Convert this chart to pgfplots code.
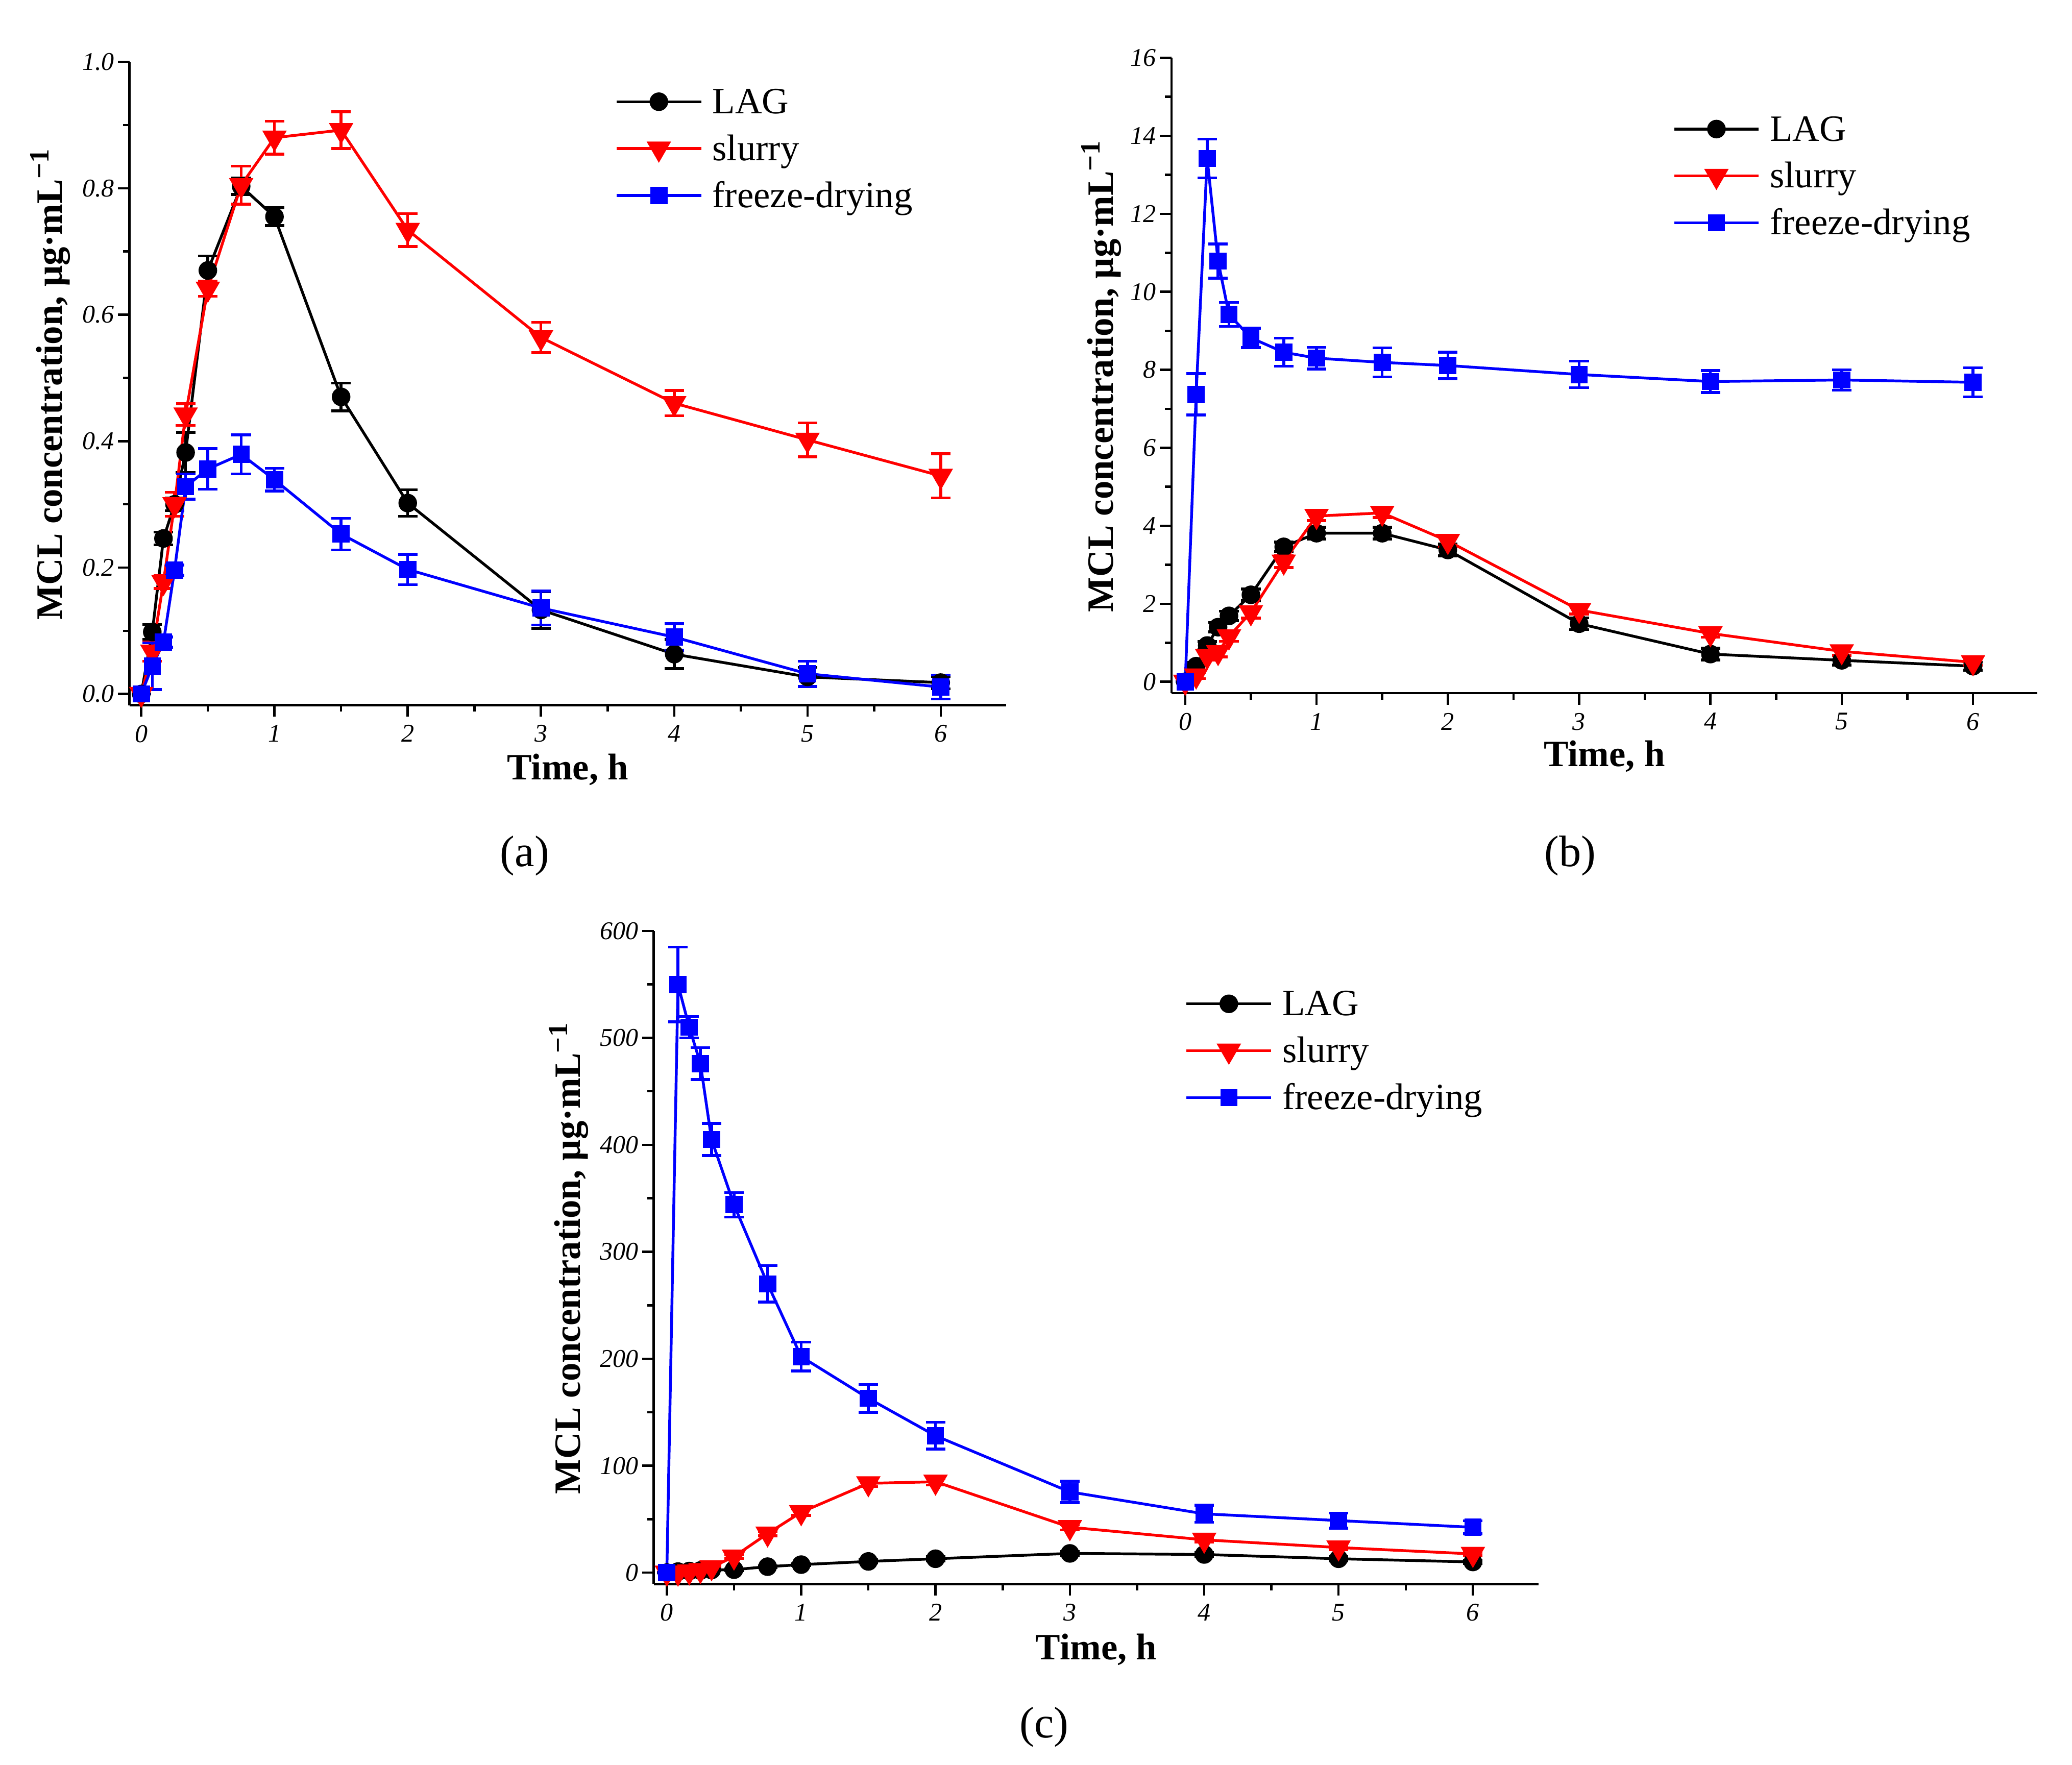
\documentclass[border=0pt]{standalone}
\usepackage{fontspec}
\setmainfont{Liberation Serif}
\usepackage{pgfplots}
\pgfplotsset{compat=1.18}
\usepackage{pgfplotstable}

% ---------- data: t [h], concentration, sd ----------
\pgfplotstableread{
t     c      e
0     0      0
0.083 0.098  0.012
0.167 0.246  0.010
0.25  0.300  0.010
0.333 0.382  0.032
0.5   0.670  0.023
0.75  0.803  0.013
1     0.755  0.014
1.5   0.470  0.022
2     0.302  0.021
3     0.133  0.029
4     0.063  0.023
5     0.027  0.015
6     0.018  0.010
}\lagA
\pgfplotstableread{
t     c      e
0     0      0
0.083 0.067  0.015
0.167 0.177  0.010
0.25  0.300  0.019
0.333 0.442  0.017
0.5   0.641  0.012
0.75  0.805  0.030
1     0.880  0.026
1.5   0.892  0.029
2     0.734  0.026
3     0.564  0.024
4     0.460  0.020
5     0.402  0.027
6     0.345  0.035
}\slurA
\pgfplotstableread{
t     c      e
0     0      0
0.083 0.044  0.037
0.167 0.082  0.008
0.25  0.196  0.008
0.333 0.328  0.020
0.5   0.356  0.032
0.75  0.379  0.031
1     0.339  0.018
1.5   0.253  0.025
2     0.197  0.024
3     0.136  0.027
4     0.090  0.021
5     0.032  0.020
6     0.011  0.019
}\fdA

\pgfplotstableread{
t     c      e
0     0      0
0.083 0.40   0.10
0.167 0.93   0.10
0.25  1.40   0.12
0.333 1.69   0.12
0.5   2.23   0.15
0.75  3.46   0.12
1     3.81   0.15
1.5   3.81   0.15
2     3.38   0.15
3     1.49   0.15
4     0.71   0.15
5     0.55   0.12
6     0.40   0.10
}\lagB
\pgfplotstableread{
t     c      e
0     0      0
0.083 0.16   0.08
0.167 0.66   0.10
0.25  0.76   0.12
0.333 1.16   0.12
0.5   1.78   0.15
0.75  3.08   0.15
1     4.25   0.12
1.5   4.33   0.12
2     3.61   0.15
3     1.84   0.10
4     1.24   0.10
5     0.78   0.10
6     0.50   0.08
}\slurB
\pgfplotstableread{
t     c      e
0     0      0
0.083 7.37   0.53
0.167 13.42  0.50
0.25  10.79  0.44
0.333 9.42   0.31
0.5   8.82   0.25
0.75  8.45   0.36
1     8.30   0.28
1.5   8.19   0.37
2     8.11   0.34
3     7.88   0.34
4     7.70   0.28
5     7.74   0.26
6     7.68   0.37
}\fdB

\pgfplotstableread{
t     c      e
0     0      0
0.083 1      0.5
0.167 1.5    0.5
0.25  2      0.5
0.333 2.5    0.5
0.5   2.8    0.8
0.75  5.6    1
1     7.5    1
1.5   10.5   1.5
2     13     2
3     18     2
4     17     2
5     13     2
6     10     1.5
}\lagC
\pgfplotstableread{
t     c      e
0     0      0
0.083 0      0.5
0.167 1      0.5
0.25  2.4    0.5
0.333 5      1
0.5   15     1.5
0.75  36.5   2
1     56.5   3
1.5   83.5   3
2     85     3
3     42.5   2.5
4     30.7   2
5     23.5   2
6     17.5   1.5
}\slurC
\pgfplotstableread{
t     c      e
0     0      0
0.083 550    35
0.167 510    10
0.25  476    15
0.333 405    15
0.5   344    11.5
0.75  270    17
1     202    13.5
1.5   163    13
2     128    12.5
3     75.5   10
4     55     8
5     48.7   7
6     42.4   6
}\fdC

\pgfplotsset{
  panel/.style={
    scale only axis,
    anchor=south west,
    axis lines*=left,
    axis line style={line width=0.5pt},
    tick align=outside,
    major tick length=2.5pt,
    minor tick length=1.4pt,
    every tick/.style={black, line width=0.5pt},
    xmax=6.49,
    xtick={0,1,2,3,4,5,6},
    minor x tick num=1,
    minor y tick num=1,
    /pgf/number format/assume math mode=true,
    tick label style={font=\fontsize{5.5}{6}\selectfont\itshape},
    xticklabel style={inner sep=1.6pt},
    yticklabel style={inner sep=0.6pt},
    xlabel={Time, h},
    ylabel={MCL concentration, μg·mL\textsuperscript{−1}},
    label style={font=\fontsize{8}{9.6}\selectfont\bfseries},
    xlabel style={at={(axis description cs:0.5,-0.116)}, anchor=base},
    clip=false,
    legend cell align=left,
    legend style={draw=none, fill=none, inner sep=0pt, outer sep=0pt,
      anchor=north west, column sep=0.075cm, row sep=4.2pt,
      font=\fontsize{8}{9.6}\selectfont,
      nodes={inner sep=0pt, text height=5.5pt, text depth=0.4pt}},
    legend image code/.code={
      \draw[mark repeat=2,mark phase=2,#1]
        plot coordinates {(0cm,0cm) (0.32cm,0cm) (0.64cm,0cm)};},
  },
  ebar/.style={error bars/.cd, y dir=both, y explicit,
    error bar style={line width=0.6pt},
    error mark options={rotate=90, line width=0.6pt, mark size=2.1pt}},
  lag/.style={black, line width=0.6pt, mark=*, mark size=1.7pt,
    mark options={solid}, ebar},
  slurry/.style={red, line width=0.6pt, mark=triangle*, mark size=2.45pt,
    mark options={solid, rotate=180}, ebar},
  fd/.style={blue, line width=0.6pt, mark=square*, mark size=1.55pt,
    mark options={solid}, ebar},
}

\begin{document}
\begin{tikzpicture}
\useasboundingbox[fill=white] (0,0) rectangle (15.678,13.353);

% (a)
\begin{axis}[panel,
  at={(0.980cm,8.016cm)}, width=6.632cm, height=4.869cm,
  xmin=-0.088, ymin=-0.0178, ymax=1.0,
  ytick={0,0.2,0.4,0.6,0.8,1.0},
  yticklabel style={/pgf/number format/fixed,
    /pgf/number format/fixed zerofill, /pgf/number format/precision=1},
  ylabel style={at={(axis description cs:-0.0771,0.5)}, anchor=base},
  legend style={at={(0.5541,0.9593)}},
]
\addplot[lag] table[x=t, y=c, y error=e] {\lagA};
\addlegendentry{LAG}
\addplot[slurry] table[x=t, y=c, y error=e] {\slurA};
\addlegendentry{slurry}
\addplot[fd] table[x=t, y=c, y error=e] {\fdA};
\addlegendentry{freeze-drying}
\end{axis}

% (b)
\begin{axis}[panel,
  at={(8.864cm,8.108cm)}, width=6.552cm, height=4.807cm,
  xmin=-0.105, ymin=-0.29, ymax=16,
  ytick={0,2,4,6,8,10,12,14,16},
  ylabel style={at={(axis description cs:-0.0676,0.5)}, anchor=base},
  xlabel style={at={(axis description cs:0.5,-0.115)}},
  legend style={at={(0.5789,0.9095)}},
]
\addplot[lag] table[x=t, y=c, y error=e] {\lagB};
\addlegendentry{LAG}
\addplot[slurry] table[x=t, y=c, y error=e] {\slurB};
\addlegendentry{slurry}
\addplot[fd] table[x=t, y=c, y error=e] {\fdB};
\addlegendentry{freeze-drying}
\end{axis}

% (c)
\begin{axis}[panel,
  at={(4.947cm,1.366cm)}, width=6.696cm, height=4.942cm,
  xmin=-0.097, ymin=-10.6, ymax=600,
  ytick={0,100,200,300,400,500,600},
  ylabel style={at={(axis description cs:-0.0830,0.5)}, anchor=base},
  legend style={at={(0.6005,0.9094)}},
]
\addplot[lag] table[x=t, y=c, y error=e] {\lagC};
\addlegendentry{LAG}
\addplot[slurry] table[x=t, y=c, y error=e] {\slurC};
\addlegendentry{slurry}
\addplot[fd] table[x=t, y=c, y error=e] {\fdC};
\addlegendentry{freeze-drying}
\end{axis}

\node[font=\fontsize{9.5}{11}\selectfont] at (3.97,6.875) {(a)};
\node[font=\fontsize{9.5}{11}\selectfont] at (11.88,6.875) {(b)};
\node[font=\fontsize{9.5}{11}\selectfont] at (7.90,0.285) {(c)};
\end{tikzpicture}
\end{document}
